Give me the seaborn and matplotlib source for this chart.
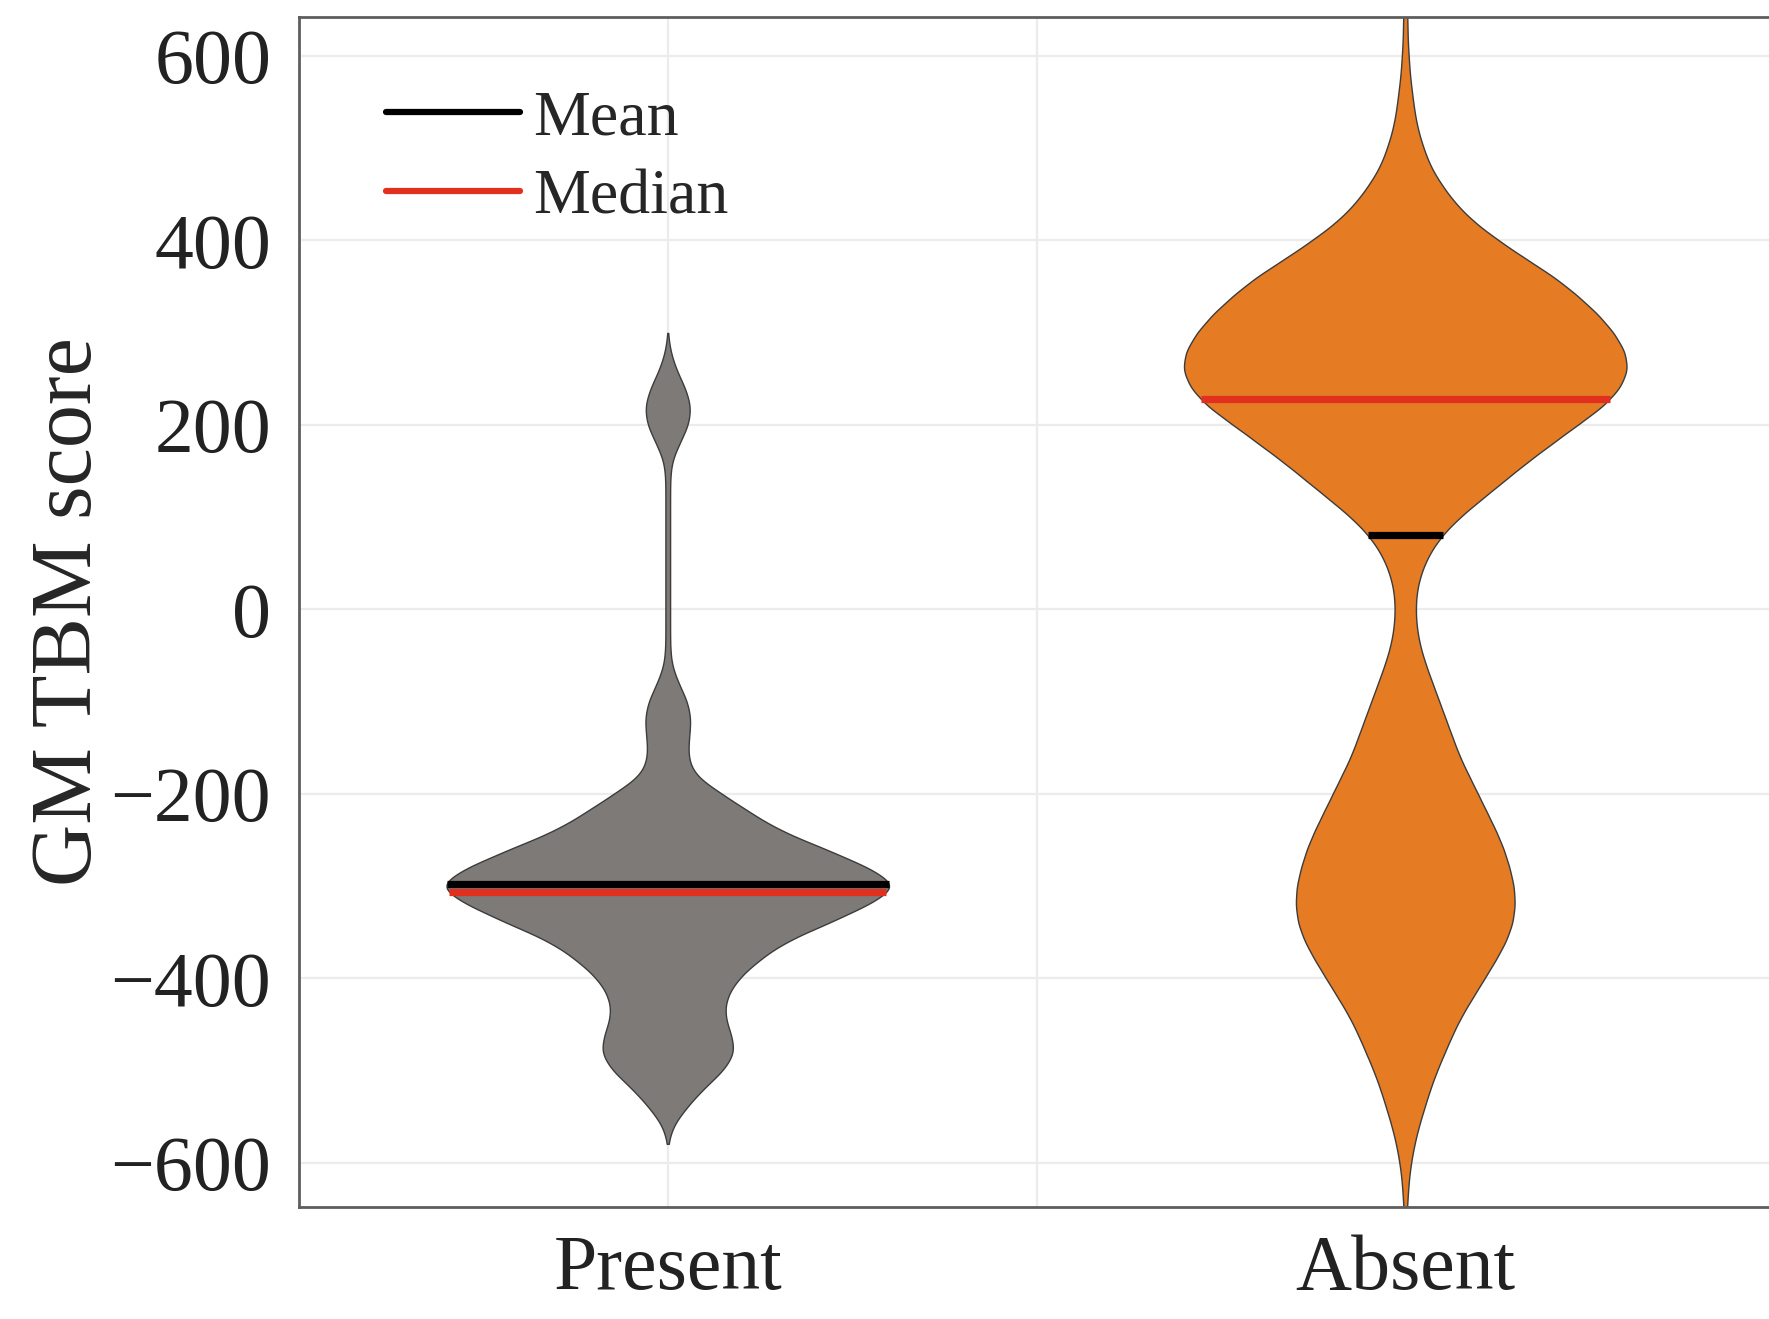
import numpy as np
import pandas as pd
import matplotlib
matplotlib.use("Agg")
import matplotlib.pyplot as plt
from matplotlib.lines import Line2D
import seaborn as sns

# ---- data -------------------------------------------------------------
groups = ["Present", "Absent"]
group_colors = ["#7d7a77", "#e57b22"]

# score bins (20-unit steps) and how many subjects fall in each bin
present_scores = list(range(-560, 281, 20))
present_counts = [4, 16, 30, 48, 58, 54, 48, 50, 60,
                  78, 100, 138, 172, 200, 172, 135, 95, 70, 46,
                  22, 17, 18, 20, 17, 9, 3, 2, 2, 2,
                  2, 2, 2, 2, 2, 2, 2, 3, 10, 18,
                  20, 15, 7, 2]

absent_scores = list(range(-680, 681, 20))
absent_counts = [1, 1, 2, 3, 5, 8, 12, 17, 22, 28,
                 35, 42, 50, 60, 70, 80, 89, 95, 97, 96,
                 92, 87, 80, 72, 64, 56, 48, 42, 36, 30,
                 24, 18, 13, 10, 9, 10, 14, 21, 32, 48,
                 68, 88, 108, 130, 152, 175, 190, 197, 194, 184,
                 170, 152, 132, 106, 82, 60, 44, 32, 22, 16,
                 11, 8, 6, 4, 3, 2, 2, 1, 1]

# summary statistics per group
group_means = [-298, 80]
group_medians = [-306, 228]

# ---- long-form table --------------------------------------------------
present_values = np.repeat(present_scores, present_counts)
absent_values = np.repeat(absent_scores, absent_counts)
df = pd.DataFrame({
    "group": ["Present"] * len(present_values) + ["Absent"] * len(absent_values),
    "score": np.concatenate([present_values, absent_values]).astype(float),
})

# ---- style ------------------------------------------------------------
sns.set_theme(style="white")
plt.rcParams["font.family"] = ["Liberation Serif", "DejaVu Serif"]
plt.rcParams["mathtext.fontset"] = "stix"

fig = plt.figure(figsize=(17.69, 13.19), dpi=100)
ax = fig.add_axes([299 / 1769, 112 / 1319, 1475 / 1769, 1190 / 1319])

KDE_BW = 13.0  # kernel width in score units


def fixed_bw(kde):
    return KDE_BW / np.std(kde.dataset, ddof=1)


sns.violinplot(data=df, x="group", y="score", hue="group",
               order=groups, hue_order=groups, palette=group_colors,
               saturation=1, inner=None, density_norm="width", width=0.6,
               bw_method=fixed_bw, cut=1.5, gridsize=500,
               linewidth=1.0, linecolor="#3c3c3c", legend=False, ax=ax)


def span_at(poly, y):
    verts = poly.get_paths()[0].vertices
    xs = []
    for (x0, y0), (x1, y1) in zip(verts[:-1], verts[1:]):
        if y0 != y1 and (y0 - y) * (y1 - y) <= 0:
            xs.append(x0 + (y - y0) * (x1 - x0) / (y1 - y0))
    return min(xs), max(xs)


polys = {}
for coll in ax.collections:
    verts = coll.get_paths()[0].vertices
    polys[int(round(verts[:, 0].mean()))] = coll

for i, g in enumerate(groups):
    poly = polys[i]
    xa, xb = span_at(poly, group_means[i])
    ax.plot([xa, xb], [group_means[i]] * 2, color="black", lw=5.2,
            solid_capstyle="butt", zorder=4)
    xa, xb = span_at(poly, group_medians[i])
    ax.plot([xa, xb], [group_medians[i]] * 2, color="#e2301f", lw=5.2,
            solid_capstyle="butt", zorder=5)

# ---- axes -------------------------------------------------------------
ax.set_xlim(-0.5, 1.5)
ax.set_ylim(-648, 642)
ax.set_yticks(np.arange(-600, 601, 200))
ax.set_xticks([0, 1])
ax.set_xticks([0.5, 1.5], minor=True)
ax.set_xticklabels(groups)
ax.set_xlabel("")
ax.set_ylabel("GM TBM score", fontsize=62)
ax.yaxis.set_label_coords(-0.128, 0.5)

ax.tick_params(axis="both", which="both", length=0, labelsize=56,
               colors="#222222")
ax.tick_params(axis="y", pad=20)
ax.tick_params(axis="x", pad=20)

ax.grid(True, which="both", color="#ececec", lw=1.6)
ax.set_axisbelow(True)
for side in ["left", "top", "bottom", "right"]:
    ax.spines[side].set_color("#5e5e5e")
    ax.spines[side].set_linewidth(2.0)

handles = [Line2D([0], [0], color="black", lw=4.5),
           Line2D([0], [0], color="#e2301f", lw=4.5)]
ax.legend(handles, ["Mean", "Median"], loc="upper left",
          bbox_to_anchor=(0.059, 0.939), frameon=False, fontsize=46,
          handlelength=2.1, handletextpad=0.2, labelspacing=0.32,
          borderpad=0, borderaxespad=0)

fig.savefig("out.png", dpi=100)
